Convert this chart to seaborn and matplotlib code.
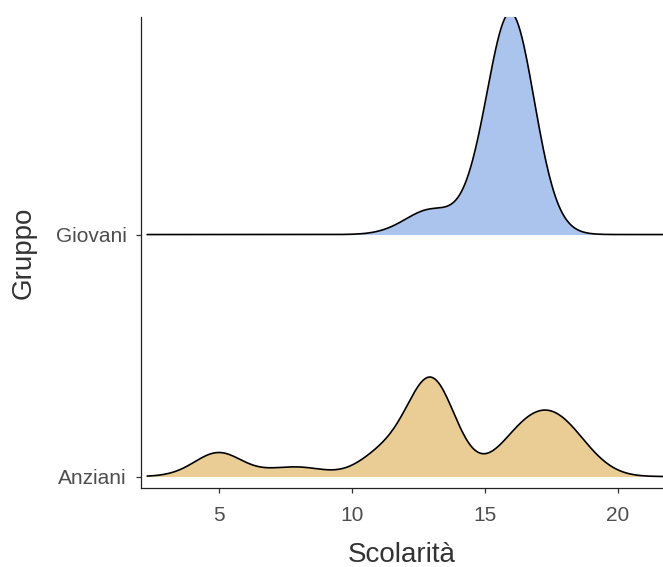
import numpy as np
import pandas as pd
import matplotlib
matplotlib.use('Agg')
import matplotlib.pyplot as plt
from matplotlib.transforms import Affine2D
import seaborn as sns

# Data: years of schooling (Scolarità) and number of people per group
groups = ["Anziani", "Giovani"]
anziani_years = [4, 5, 6, 7, 8, 9, 11, 12, 13, 14, 16, 17, 18, 19]
anziani_counts = [2, 20, 1, 3, 6, 2, 16, 13, 79, 6, 21, 33, 30, 8]
giovani_years = [12, 13, 15, 16, 17]
giovani_counts = [2, 10, 13, 94, 4]
x_ticks = [5, 10, 15, 20]

colors = {"Anziani": "#EACD94", "Giovani": "#ABC4EE"}
bandwidth = 0.85     # joint kernel bandwidth (years)
height_scale = 2.34  # ridge height per unit of density

df = pd.concat([
    pd.DataFrame({"Gruppo": "Anziani", "Scolarita": anziani_years, "n": anziani_counts}),
    pd.DataFrame({"Gruppo": "Giovani", "Scolarita": giovani_years, "n": giovani_counts}),
], ignore_index=True)

sns.set_theme(style="ticks")
plt.rcParams["font.family"] = ["Liberation Sans", "DejaVu Sans"]

fig = plt.figure(figsize=(6.63, 5.67), dpi=100)
ax = fig.add_axes([0.2127, 0.1393, 0.7873, 0.8307])

for i, g in enumerate(groups):
    sub = df[df["Gruppo"] == g]
    sd = np.sqrt(np.cov(sub["Scolarita"].to_numpy(float), aweights=sub["n"].to_numpy(float)))
    bw = bandwidth / sd
    base = i + 1
    tr = Affine2D().scale(1, height_scale).translate(0, base) + ax.transData
    common = dict(data=sub, x="Scolarita", weights="n", bw_method=bw, cut=30,
                  clip=(2.3, 23), gridsize=600, ax=ax, transform=tr)
    sns.kdeplot(**common, fill=True, color=colors[g], alpha=1, linewidth=0, zorder=2 + 2 * (1 - i))
    sns.kdeplot(**common, fill=False, color="black", linewidth=1.2, zorder=3 + 2 * (1 - i))

ax.set_xlim(2.068, 21.69)
ax.set_ylim(0.9525, 2.899)
ax.set_xticks(x_ticks)
ax.set_yticks([1, 2])
ax.set_yticklabels(groups)
for s in ["top", "right"]:
    ax.spines[s].set_visible(False)
for s in ["left", "bottom"]:
    ax.spines[s].set_color("#222222")
    ax.spines[s].set_linewidth(0.9)
ax.tick_params(axis="both", colors="#333333", labelcolor="#4D4D4D", labelsize=15,
               length=3.8, width=0.9)
ax.tick_params(axis="x", pad=9.5)
ax.tick_params(axis="y", pad=6.5)
ax.set_xlabel("Scolarità", fontsize=20, color="#333333", labelpad=12)
ax.set_ylabel("Gruppo", fontsize=20, color="#333333", labelpad=13.5)
ax.set_facecolor("white")
fig.patch.set_facecolor("white")

fig.savefig("out.png", dpi=100)
